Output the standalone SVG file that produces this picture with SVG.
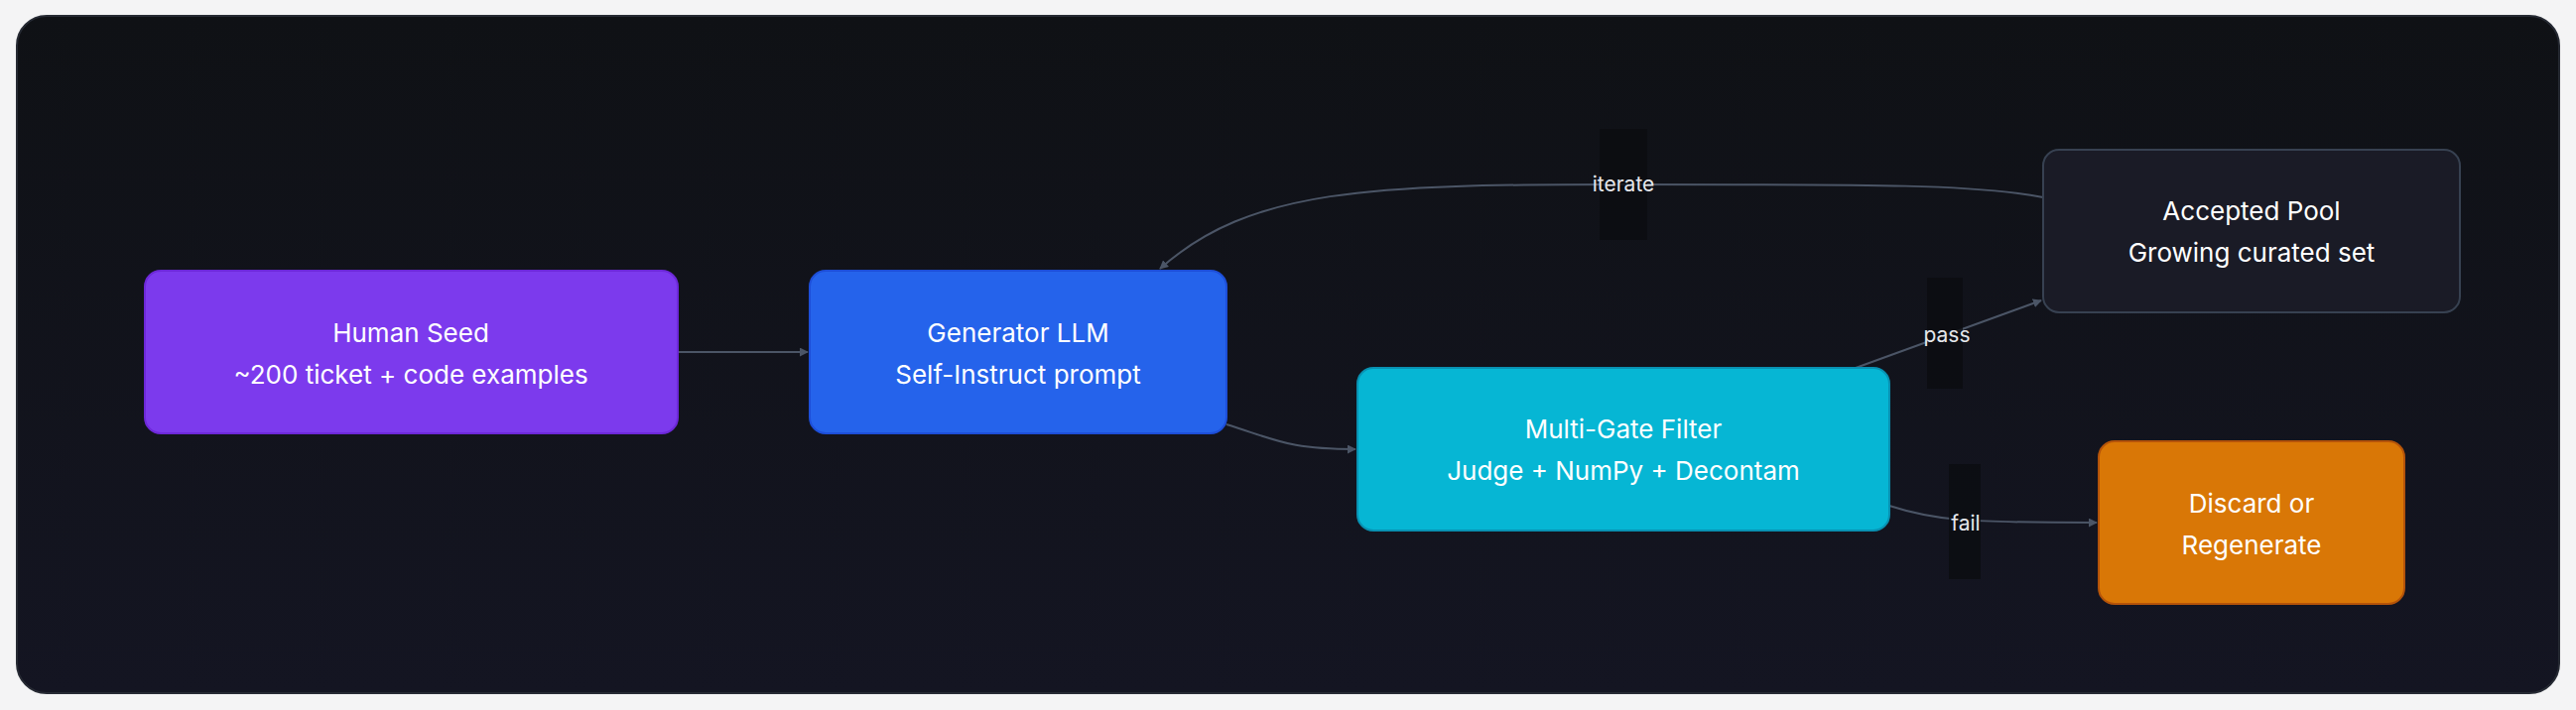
<svg xmlns="http://www.w3.org/2000/svg" width="2596" height="716" viewBox="0 0 2596 716">
<defs>
<linearGradient id="bg" x1="0" y1="0" x2="0" y2="1"><stop offset="0" stop-color="#0f1115"/><stop offset="1" stop-color="#141522"/></linearGradient>
<marker id="ah" viewBox="0 0 10 10" refX="9" refY="5" markerWidth="9" markerHeight="9" markerUnits="userSpaceOnUse" orient="auto"><path d="M0,0 L10,5 L0,10 z" fill="#4b5566"/></marker>
<style>
.n text{font-family:Inter,"Liberation Sans",sans-serif;font-size:26px;fill:#fff;text-anchor:middle}
.e path{fill:none;stroke:#4b5566;stroke-width:2;marker-end:url(#ah)}
.lb{fill:#0b0c10;opacity:.8}
.lt{font-family:Inter,"Liberation Sans",sans-serif;font-size:21px;fill:#e5e7eb;text-anchor:middle}
</style>
</defs>
<rect width="2596" height="716" fill="#f4f4f5"/>
<rect x="17" y="16" width="2562" height="683" rx="30" fill="url(#bg)" stroke="#262a33" stroke-width="2"/>
<g class="e" id="connectors">
<path d="M683,355 L814,355"/>
<path d="M1236,428 C1290,445 1300,453 1366,453"/>
<path d="M2059,199 C1990,186 1900,186 1635,186 C1380,186 1260,190 1169,271"/>
<path d="M1870,371 L2057,303"/>
<path d="M1904,510 C1950,525 1980,527 2113,527"/>
<rect class="lb" x="1612" y="130" width="48" height="112"/>
<text class="lt" x="1636" y="193">iterate</text>
<rect class="lb" x="1942" y="280" width="36" height="112"/>
<text class="lt" x="1962" y="345">pass</text>
<rect class="lb" x="1964" y="468" width="32" height="116"/>
<text class="lt" x="1981" y="535">fail</text>
</g>
<g class="n" id="seed"><rect x="146" y="273" width="537" height="164" rx="16" fill="#7c3aed" stroke="#6d28d9" stroke-width="2"/><text x="414" y="345">Human Seed</text><text x="414" y="387">~200 ticket + code examples</text></g>
<g class="n" id="gen"><rect x="816" y="273" width="420" height="164" rx="16" fill="#2563eb" stroke="#1d4ed8" stroke-width="2"/><text x="1026" y="345">Generator LLM</text><text x="1026" y="387">Self-Instruct prompt</text></g>
<g class="n" id="filter"><rect x="1368" y="371" width="536" height="164" rx="16" fill="#06b6d4" stroke="#0891b2" stroke-width="2"/><text x="1636" y="442">Multi-Gate Filter</text><text x="1636" y="484">Judge + NumPy + Decontam</text></g>
<g class="n" id="pool"><rect x="2059" y="151" width="420" height="164" rx="16" fill="#1a1b26" stroke="#374151" stroke-width="2"/><text x="2269" y="222">Accepted Pool</text><text x="2269" y="264">Growing curated set</text></g>
<g class="n" id="discard"><rect x="2115" y="445" width="308" height="164" rx="16" fill="#d97706" stroke="#b45309" stroke-width="2"/><text x="2269" y="517">Discard or</text><text x="2269" y="559">Regenerate</text></g>
</svg>
